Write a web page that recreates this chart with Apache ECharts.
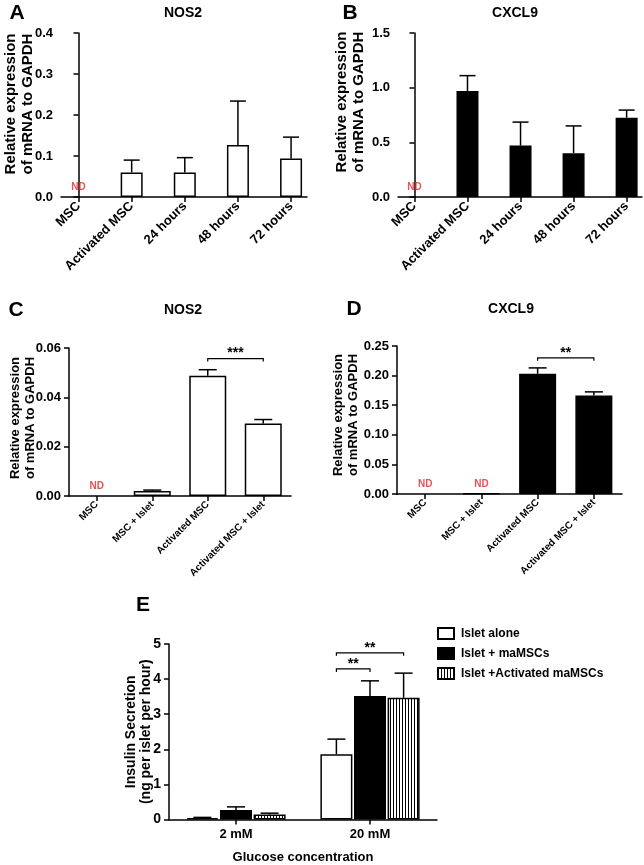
<!DOCTYPE html>
<html>
<head>
<meta charset="utf-8">
<script src="https://cdn.jsdelivr.net/npm/echarts@6/dist/echarts.min.js"></script>
<style>
html,body{margin:0;padding:0;background:#fff;}
#c{width:644px;height:865px;}
</style>
</head>
<body>
<div id="c"></div>
<script>
// ---------------- DATA ----------------
const catsAB = ['MSC', 'Activated MSC', '24 hours', '48 hours', '72 hours'];
const nos2A = [null, 0.060, 0.060, 0.127, 0.094];
const nos2AErr = [null, 0.030, 0.036, 0.107, 0.052];
const ndA = [0];
const cxcl9B = [null, 0.97, 0.47, 0.40, 0.725];
const cxcl9BErr = [null, 0.14, 0.215, 0.25, 0.07];
const ndB = [0];

const catsCD = ['MSC', 'MSC + Islet', 'Activated MSC', 'Activated MSC + Islet'];
const nos2C = [null, 0.0020, 0.0488, 0.0294];
const nos2CErr = [null, 0.0004, 0.0024, 0.0016];
const ndC = [0];
const sigC = [[2, 3, 0.0557, '***']];
const cxcl9D = [null, 0.0008, 0.203, 0.1665];
const cxcl9DErr = [null, 0, 0.010, 0.006];
const ndD = [0, 1];
const sigD = [[2, 3, 0.230, '**']];

const glucose = ['2 mM', '20 mM'];
const seriesNamesE = ['Islet alone', 'Islet + maMSCs', 'Islet +Activated maMSCs'];
const isletAlone = [0.04, 1.86];
const isletAloneErr = [0.02, 0.43];
const isletMaMSC = [0.27, 3.52];
const isletMaMSCErr = [0.09, 0.43];
const isletActMaMSC = [0.14, 3.47];
const isletActMaMSCErr = [0.04, 0.70];
// [category, fromBar, toBar, y, text]
const sigE = [[1, 0, 2, 4.75, '**'], [1, 0, 1, 4.29, '**']];

// ---------------- STYLE ----------------
const FONT = 'Liberation Sans, Arial, Helvetica, sans-serif';
const BLACK = '#000';
const RED = '#e3262b';
const LW = 1.5;

const stripe = document.createElement('canvas');
stripe.width = 3; stripe.height = 4;
(function () {
  const g = stripe.getContext('2d');
  g.fillStyle = '#fff'; g.fillRect(0, 0, 3, 4);
  g.fillStyle = '#000'; g.fillRect(0, 0, 1, 4);
})();

const axisLineStyle = { show: true, lineStyle: { color: BLACK, width: LW } };
const tickStyle = { show: true, length: 5, lineStyle: { color: BLACK, width: LW } };
function lbl(size, extra) {
  return Object.assign({ color: BLACK, fontFamily: FONT, fontWeight: 'bold', fontSize: size }, extra || {});
}

function yAxis(grid, max, interval, digits, nameGap, name, nameSize, lineH, shiftUp) {
  return {
    type: 'value', gridIndex: grid, min: 0, max: max, interval: interval,
    axisLine: axisLineStyle, axisTick: tickStyle, splitLine: { show: false },
    axisLabel: lbl(13, { margin: 8, formatter: v => v.toFixed(digits) }),
    name: name, nameLocation: 'middle', nameRotate: 90, nameGap: nameGap, nameMoveOverlap: false,
    nameTextStyle: lbl(nameSize, { lineHeight: lineH, align: 'center',
      padding: shiftUp >= 0 ? [0, 0, 0, 2 * shiftUp] : [0, -2 * shiftUp, 0, 0] })
  };
}

function pairs(arr) {
  const out = [];
  arr.forEach((v, i) => { if (v !== null) out.push([i, v]); });
  return out;
}
function errData(vals, errs) {
  const out = [];
  vals.forEach((v, i) => { if (v !== null && errs[i]) out.push([i, v, errs[i]]); });
  return out;
}

function errSeries(xi, vals, errs, capHalf, offset) {
  return {
    type: 'custom', xAxisIndex: xi, yAxisIndex: xi, z: 5,
    data: errData(vals, errs), encode: { x: 0, y: 1 },
    renderItem: function (params, api) {
      const x = api.value(0), m = api.value(1), e = api.value(2);
      const p0 = api.coord([x, m]);
      const p1 = api.coord([x, m + e]);
      const cx = p0[0] + (offset || 0);
      const st = { stroke: BLACK, lineWidth: LW };
      return {
        type: 'group', children: [
          { type: 'line', shape: { x1: cx, y1: p0[1], x2: cx, y2: p1[1] }, style: st },
          { type: 'line', shape: { x1: cx - capHalf, y1: p1[1], x2: cx + capHalf, y2: p1[1] }, style: st }
        ]
      };
    }
  };
}

function ndSeries(xi, idxs) {
  return {
    type: 'scatter', xAxisIndex: xi, yAxisIndex: xi, symbolSize: 1, z: 6,
    itemStyle: { color: 'rgba(0,0,0,0)' },
    data: idxs.map(i => [i, 0]),
    label: { show: true, position: 'top', distance: 4, formatter: 'ND', color: RED, fontFamily: FONT, fontWeight: 'bold', fontSize: 10 },
    silent: true
  };
}

function sigSeries(xi, rows, offsetFn) {
  return {
    type: 'custom', xAxisIndex: xi, yAxisIndex: xi, z: 6,
    data: rows.map(r => r.slice(0, r.length - 1)),
    encode: { y: rows[0].length - 2 },
    renderItem: function (params, api) {
      const r = rows[params.dataIndex];
      let xa, xb, y;
      if (r.length === 4) { xa = api.coord([r[0], r[2]]); xb = api.coord([r[1], r[2]]); }
      else {
        xa = api.coord([r[0], r[3]]); xb = api.coord([r[0], r[3]]);
        xa = [xa[0] + offsetFn(r[1]), xa[1]];
        xb = [xb[0] + offsetFn(r[2]), xb[1]];
      }
      y = xa[1];
      const text = r[r.length - 1];
      return {
        type: 'group', children: [
          { type: 'polyline', shape: { points: [[xa[0], y + 3], [xa[0], y], [xb[0], y], [xb[0], y + 3]] },
            style: { stroke: BLACK, lineWidth: 1.2, fill: null } },
          { type: 'text', x: (xa[0] + xb[0]) / 2, y: y - 5,
            style: { text: text, textAlign: 'center', textVerticalAlign: 'middle', fill: BLACK, font: 'bold 14px ' + FONT } }
        ]
      };
    }
  };
}

const whiteBar = { color: '#fff', borderColor: BLACK, borderWidth: LW };
const blackBar = { color: BLACK, borderColor: BLACK, borderWidth: LW };
const stripeBar = { color: { image: stripe, repeat: 'repeat' }, borderColor: BLACK, borderWidth: LW };

const E_BW = 32, E_GAP = 1.6;
const eOff = k => (k - 1) * (E_BW + E_GAP);

function panelText(x, y, text, size) {
  return { type: 'text', x: x, y: y, style: { text: text, textAlign: 'center', textVerticalAlign: 'middle', fill: BLACK, font: 'bold ' + size + 'px ' + FONT } };
}

const yName = 'Relative expression\nof mRNA to GAPDH';

const option = {
  animation: false,
  backgroundColor: '#fff',
  graphic: [
    panelText(17, 13, 'A', 21), panelText(183, 13, 'NOS2', 14),
    panelText(350, 13, 'B', 21), panelText(515, 13, 'CXCL9', 14),
    panelText(16, 310, 'C', 21), panelText(183, 310, 'NOS2', 14),
    panelText(354, 309, 'D', 21), panelText(511, 309, 'CXCL9', 14),
    panelText(143, 605, 'E', 21)
  ],
  grid: [
    { left: 61, right: 337, top: 33, bottom: 668 },
    { left: 398, right: 2, top: 33, bottom: 668 },
    { left: 69, right: 353, top: 348, bottom: 369 },
    { left: 397, right: 22, top: 346, bottom: 371 },
    { left: 169, right: 207, top: 644, bottom: 45.5 }
  ],
  xAxis: [
    { type: 'value', gridIndex: 0, min: -0.33, max: 4.3, splitLine: { show: false },
      axisLine: axisLineStyle, axisTick: Object.assign({ customValues: [0, 1, 2, 3, 4] }, tickStyle),
      axisLabel: lbl(13, { rotate: 45, margin: 7, customValues: [0, 1, 2, 3, 4], formatter: v => catsAB[Math.round(v)] }) },
    { type: 'value', gridIndex: 1, min: -0.31, max: 4.29, splitLine: { show: false },
      axisLine: axisLineStyle, axisTick: Object.assign({ customValues: [0, 1, 2, 3, 4] }, tickStyle),
      axisLabel: lbl(13, { rotate: 45, margin: 7, customValues: [0, 1, 2, 3, 4], formatter: v => catsAB[Math.round(v)] }) },
    { type: 'category', gridIndex: 2, data: catsCD, axisLine: axisLineStyle,
      axisTick: Object.assign({ alignWithLabel: true }, tickStyle),
      axisLabel: lbl(10, { rotate: 45, margin: 7, interval: 0 }) },
    { type: 'category', gridIndex: 3, data: catsCD, axisLine: axisLineStyle,
      axisTick: Object.assign({ alignWithLabel: true }, tickStyle),
      axisLabel: lbl(10, { rotate: 45, margin: 7, interval: 0 }) },
    { type: 'category', gridIndex: 4, data: glucose, axisLine: axisLineStyle,
      axisTick: Object.assign({ alignWithLabel: true }, tickStyle),
      axisLabel: lbl(13, { margin: 8 }),
      name: 'Glucose concentration', nameLocation: 'middle', nameGap: 31, nameMoveOverlap: false,
      nameTextStyle: lbl(13) }
  ],
  yAxis: [
    yAxis(0, 0.4, 0.1, 1, 25, yName, 15, 17, 11),
    yAxis(1, 1.5, 0.5, 1, 31, yName, 15, 17, 13),
    yAxis(2, 0.06, 0.02, 2, 31.5, yName, 13, 15, 4),
    yAxis(3, 0.25, 0.05, 2, 36.5, yName, 13, 15, 5),
    Object.assign(yAxis(4, 5, 1, 0, 15.5, 'Insulin Secretion\n(ng per islet per hour)', 14, 15, 0),
      { axisLabel: lbl(14, { margin: 8 }) })
  ],
  legend: {
    orient: 'vertical', left: 432, top: 622, itemWidth: 16, itemHeight: 11, itemGap: 7,
    icon: 'rect', data: seriesNamesE,
    textStyle: lbl(12, { padding: [0, 0, 0, 2] })
  },
  series: [
    // A
    { type: 'bar', xAxisIndex: 0, yAxisIndex: 0, barWidth: 22, data: pairs(nos2A), itemStyle: whiteBar },
    errSeries(0, nos2A, nos2AErr, 8, 0),
    ndSeries(0, ndA),
    // B
    { type: 'bar', xAxisIndex: 1, yAxisIndex: 1, barWidth: 22, data: pairs(cxcl9B), itemStyle: blackBar },
    errSeries(1, cxcl9B, cxcl9BErr, 8, 0),
    ndSeries(1, ndB),
    // C
    { type: 'bar', xAxisIndex: 2, yAxisIndex: 2, barWidth: 37, data: nos2C, itemStyle: whiteBar },
    errSeries(2, nos2C, nos2CErr, 9, 0),
    ndSeries(2, ndC),
    sigSeries(2, sigC),
    // D
    { type: 'bar', xAxisIndex: 3, yAxisIndex: 3, barWidth: 37, data: cxcl9D, itemStyle: blackBar },
    errSeries(3, cxcl9D, cxcl9DErr, 9, 0),
    ndSeries(3, ndD),
    sigSeries(3, sigD),
    // E
    { name: seriesNamesE[0], type: 'bar', xAxisIndex: 4, yAxisIndex: 4, barWidth: E_BW, barGap: '5%', data: isletAlone, itemStyle: whiteBar },
    { name: seriesNamesE[1], type: 'bar', xAxisIndex: 4, yAxisIndex: 4, barWidth: E_BW, barGap: '5%', data: isletMaMSC, itemStyle: blackBar },
    { name: seriesNamesE[2], type: 'bar', xAxisIndex: 4, yAxisIndex: 4, barWidth: E_BW, barGap: '5%', data: isletActMaMSC, itemStyle: stripeBar },
    errSeries(4, isletAlone, isletAloneErr, 9, eOff(0)),
    errSeries(4, isletMaMSC, isletMaMSCErr, 9, eOff(1)),
    errSeries(4, isletActMaMSC, isletActMaMSCErr, 9, eOff(2)),
    sigSeries(4, sigE, eOff)
  ]
};

const chart = echarts.init(document.getElementById('c'), null, { renderer: 'canvas' });
chart.setOption(option);
</script>
</body>
</html>
